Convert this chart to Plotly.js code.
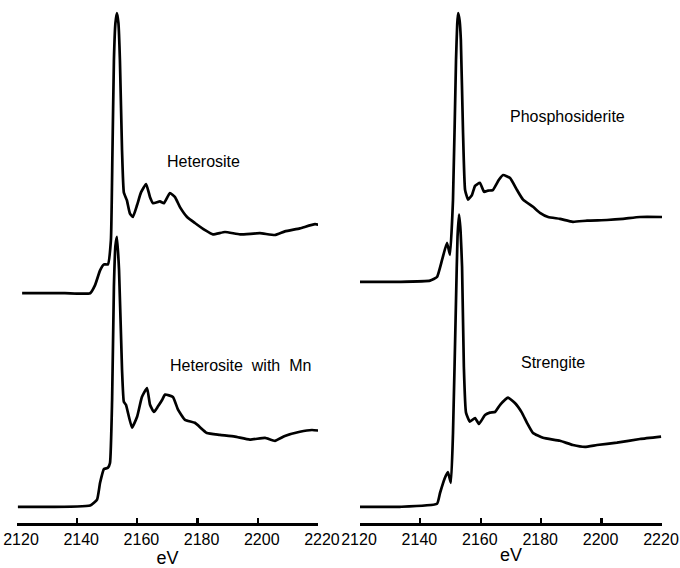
<!DOCTYPE html>
<html>
<head>
<meta charset="utf-8">
<script src="https://cdn.plot.ly/plotly-3.0.1.min.js"></script>
<style>html,body{margin:0;padding:0;background:#fff;}#chart{width:680px;height:568px;}</style>
</head>
<body>
<div id="chart"></div>
<script>
// Energy (eV) and normalized intensity
const heterositeE = [2121.7,2135.9,2144.3,2145.9,2147.6,2148.9,2150.2,2151.2,2151.7,2152.2,2152.7,2153.2,2153.7,2154.2,2154.9,2155.5,2156.5,2157.5,2158.5,2159.9,2161.2,2162.9,2164.2,2165.2,2167.5,2168.8,2170.8,2172.5,2174.2,2176.5,2179.1,2182.5,2185.1,2189.1,2194.1,2200.7,2205.7,2209.0,2214.0,2219.0,2221.3];
const heterositeI = [0,0,0,0.13,0.38,0.48,0.48,0.88,2.3,3.88,4.5,4.67,4.5,3.88,2.38,1.68,1.55,1.33,1.27,1.47,1.68,1.82,1.6,1.5,1.53,1.5,1.67,1.6,1.43,1.27,1.17,1.05,0.98,1.02,0.98,1.0,0.97,1.03,1.08,1.15,1.13];

const heterositeMnE = [2120.3,2144.3,2146.6,2147.6,2148.9,2150.2,2150.9,2151.6,2152.2,2152.7,2153.2,2153.9,2154.9,2155.5,2156.2,2158.2,2159.9,2161.5,2163.2,2164.2,2165.5,2166.8,2168.2,2169.2,2171.8,2173.5,2175.8,2179.1,2183.1,2187.4,2192.4,2197.4,2202.4,2205.7,2209.0,2214.0,2218.0,2220.3];
const heterositeMnI = [0,0.02,0.12,0.4,0.63,0.65,0.73,1.78,3.67,4.35,4.5,3.95,2.28,1.75,1.7,1.32,1.5,1.83,1.98,1.7,1.58,1.67,1.78,1.87,1.83,1.62,1.45,1.4,1.23,1.2,1.17,1.12,1.15,1.1,1.18,1.25,1.28,1.27];

const phosphosideriteE = [2120.0,2133.2,2143.2,2145.5,2147.2,2148.8,2149.8,2150.8,2151.8,2152.2,2152.5,2153.0,2153.4,2154.1,2154.8,2155.8,2157.1,2158.1,2159.7,2161.1,2162.4,2164.0,2166.0,2167.4,2169.7,2172.0,2174.0,2177.3,2179.6,2182.3,2186.2,2190.5,2195.2,2201.8,2207.1,2212.7,2220.3];
const phosphosideriteI = [0,0,0.02,0.08,0.37,0.65,0.45,1.37,3.7,4.3,4.48,4.35,4.03,2.53,1.53,1.37,1.45,1.6,1.65,1.5,1.52,1.53,1.7,1.78,1.73,1.53,1.37,1.25,1.15,1.08,1.05,1.0,1.02,1.03,1.05,1.08,1.08];

const strengiteE = [2120.0,2133.2,2145.5,2146.5,2148.1,2149.1,2150.1,2150.8,2151.8,2152.3,2152.8,2153.3,2153.8,2154.4,2155.1,2156.4,2158.1,2159.4,2161.4,2163.0,2164.7,2166.4,2169.0,2171.3,2173.6,2175.3,2177.3,2180.6,2186.2,2190.5,2194.5,2198.5,2205.1,2212.7,2219.7];
const strengiteI = [0,0,0.05,0.23,0.48,0.58,0.4,1.23,3.45,4.5,4.87,4.6,4.0,2.33,1.57,1.42,1.48,1.38,1.53,1.57,1.58,1.7,1.82,1.73,1.57,1.4,1.23,1.15,1.1,1.03,1.0,1.03,1.07,1.13,1.17];

const tickVals = [2120,2140,2160,2180,2200,2220];
const labels = ["Heterosite", "Heterosite  with  Mn", "Phosphosiderite", "Strengite"];

// vertical offsets for stacking (layout)
const offsetTop = 3.83, offsetTopR = 4.02, offsetBottom = 0.27;
const shift = (arr, off) => arr.map(v => v + off);

const lineStyle = {color: '#000', width: 2.7, shape: 'spline', smoothing: 0.4};
const traces = [
  {x: heterositeE, y: shift(heterositeI, offsetTop), xaxis: 'x', yaxis: 'y'},
  {x: heterositeMnE, y: shift(heterositeMnI, offsetBottom), xaxis: 'x', yaxis: 'y'},
  {x: phosphosideriteE, y: shift(phosphosideriteI, offsetTopR), xaxis: 'x2', yaxis: 'y2'},
  {x: strengiteE, y: shift(strengiteI, offsetBottom), xaxis: 'x2', yaxis: 'y2'}
].map(t => Object.assign(t, {type: 'scatter', mode: 'lines', line: lineStyle, hoverinfo: 'skip', showlegend: false}));

const xAxisBase = {
  range: [2120, 2220], tickvals: tickVals, ticktext: tickVals.map(String),
  showgrid: false, zeroline: false, showline: true, linecolor: '#000', linewidth: 2.6,
  ticks: 'inside', ticklen: 5, tickwidth: 2.2, tickcolor: '#000',
  ticklabeloverflow: 'allow',
  tickfont: {family: 'Liberation Sans, Arial, sans-serif', size: 16, color: '#000'},
  title: {text: 'eV', font: {family: 'Liberation Sans, Arial, sans-serif', size: 18, color: '#000'}, standoff: 2},
  fixedrange: true
};
const yAxisBase = {range: [0, 8.717], visible: false, showgrid: false, zeroline: false, fixedrange: true};

const annFont = {family: 'Liberation Sans, Arial, sans-serif', size: 16, color: '#000'};
const layout = {
  width: 680, height: 568,
  margin: {l: 0, r: 0, t: 0, b: 45},
  paper_bgcolor: '#fff', plot_bgcolor: '#fff',
  xaxis: Object.assign({}, xAxisBase, {domain: [0.025, 0.4676], anchor: 'y', ticklabelshift: 4}),
  yaxis: Object.assign({}, yAxisBase, {anchor: 'x'}),
  xaxis2: Object.assign({}, xAxisBase, {domain: [0.5294, 0.9735], anchor: 'y2', ticklabelshift: -1}),
  yaxis2: Object.assign({}, yAxisBase, {anchor: 'x2'}),
  annotations: [
    {text: labels[0], xref: 'x', yref: 'y', x: 2181.8, y: 6.02, showarrow: false, font: annFont},
    {text: labels[1], xref: 'x', yref: 'y', x: 2194.1, y: 2.62, showarrow: false, font: annFont},
    {text: labels[2], xref: 'x2', yref: 'y2', x: 2188.7, y: 6.77, showarrow: false, font: annFont},
    {text: labels[3], xref: 'x2', yref: 'y2', x: 2183.9, y: 2.68, showarrow: false, font: annFont}
  ]
};
Plotly.newPlot('chart', traces, layout, {displayModeBar: false, staticPlot: true});
</script>
</body>
</html>
